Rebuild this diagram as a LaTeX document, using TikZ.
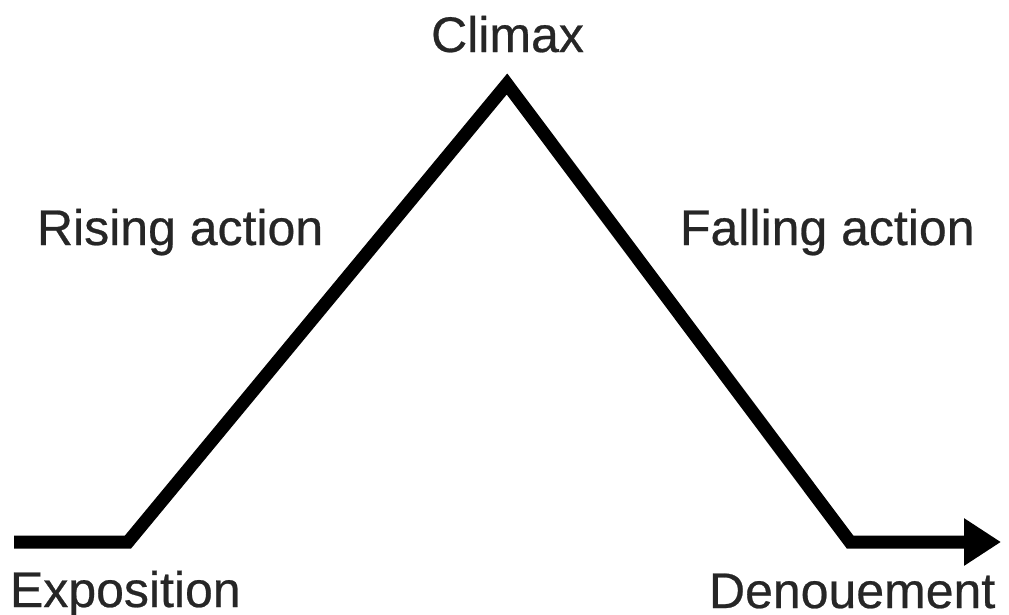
\documentclass[tikz,border=0pt]{standalone}
\usepackage{fontspec}
\newfontfamily\lblfont{Liberation Sans}[FakeBold=0.5]
\usetikzlibrary{arrows.meta}
\tikzset{
  lbl/.style={inner sep=0pt, outer sep=0pt, text=black!85, font=\lblfont\fontsize{50}{60}\selectfont},
  plot/.style={line width=13pt, line join=miter, black}
}
\begin{document}
\begin{tikzpicture}[x=1pt,y=-1pt]
\useasboundingbox (0,0) rectangle (1009,614);
\coordinate (start) at (14,542);
\coordinate (b1) at (128,542);
\coordinate (peak) at (507,84);
\coordinate (b2) at (850,542);
\coordinate (end) at (1001,542);
\draw[plot, -{Triangle[length=37pt,width=45pt]}] (start) -- (b1) -- (peak) -- (b2) -- (end);
\node[lbl, anchor=base] (climax) at (507.5,52) {Climax};
\node[lbl, anchor=base west] (rising) at (37,245) {Rising action};
\node[lbl, anchor=base west] (falling) at (680,245) {Falling action};
\node[lbl, anchor=base west] (expo) at (10,607) {Exposition};
\node[lbl, anchor=base west] (denou) at (709,608) {Denouement};
\end{tikzpicture}
\end{document}
